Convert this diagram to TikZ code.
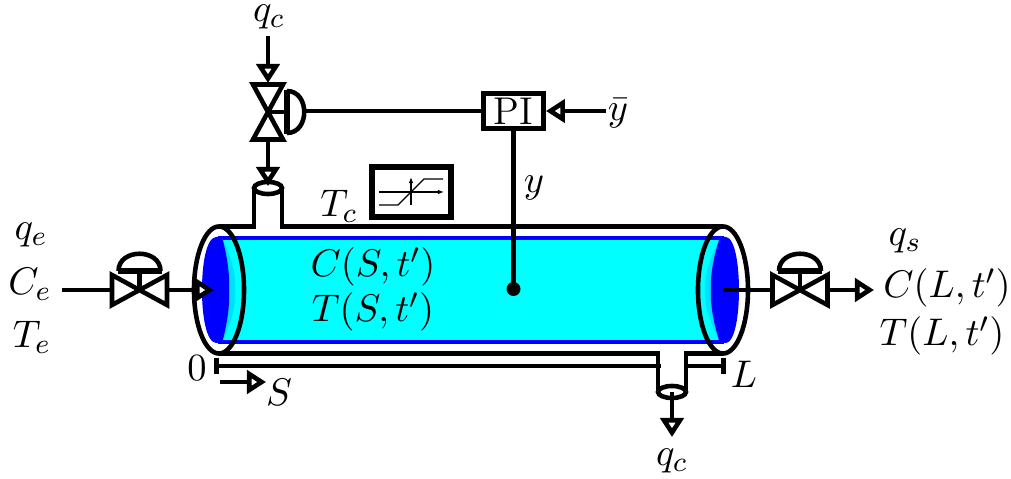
\documentclass[tikz,border=0pt]{standalone}
\usepackage{amsmath}
\usetikzlibrary{shapes.geometric,arrows.meta,calc}
\definecolor{tubeblue}{HTML}{0000FF}
\definecolor{tubecyan}{HTML}{00FFFF}
\definecolor{tubeband}{HTML}{00E0FF}
\tikzstyle{line} = [line width=1.3pt, black]
\tikzstyle{arrow} = [line, -{Triangle[open, fill=white, length=1.9mm, width=2.3mm]}]
\tikzstyle{label} = [inner sep=0pt, font=\fontsize{11}{13}\selectfont]
\tikzstyle{controller} = [rectangle, draw, line width=1.4pt, fill=white, inner sep=0pt,
    minimum width=0.6cm, minimum height=0.35cm, font=\fontsize{11}{13}\selectfont]
\tikzstyle{tankend} = [ellipse, draw, line width=1.3pt, inner sep=0pt, outer sep=0pt,
    minimum width=0.5cm, minimum height=1.27cm]
\tikzstyle{nozzle} = [ellipse, draw, line width=1.3pt, inner sep=0pt, outer sep=0pt,
    minimum width=0.28cm, minimum height=0.12cm]
\tikzset{valve/.pic={
    \draw[line, line join=miter] (-27.5,-15) -- (-27.5,15) -- (27.5,-15) -- (27.5,15) -- cycle;
    \draw[line] (0,0) -- (0,-19);
    \draw[line] (-21,-19) .. controls (-21,-42) and (21,-42) .. (21,-19);
    \draw[line width=1.8pt] (-22,-19) -- (22,-19);
    \coordinate (-w) at (-27.5,0);
    \coordinate (-e) at (27.5,0);
}}
\begin{document}
\begin{tikzpicture}[x=0.01cm, y=-0.01cm]
\useasboundingbox (0,0) rectangle (1011,479);
% liquid in the tube
\fill[tubecyan] (220,238) rectangle (722,342);
\draw[tubeblue, line width=1.15pt] (218,238) -- (724,238);
\draw[tubeblue, line width=1.15pt] (218,342) -- (724,342);
\fill[tubeband] (222,238) .. controls (232,258) and (236,275) .. (235,290)
    .. controls (236,305) and (232,322) .. (222,342) -- cycle;
\fill[tubeblue] (222,237) -- (216,237) .. controls (206,238) and (202,265) .. (202,290)
    .. controls (202,315) and (206,342) .. (216,343) -- (222,343)
    .. controls (227,325) and (230,305) .. (229,290)
    .. controls (230,275) and (227,255) .. (222,237) -- cycle;
\fill[tubeband] (720,238) .. controls (710,258) and (704,275) .. (705,290)
    .. controls (704,305) and (710,322) .. (720,342) -- cycle;
\fill[tubeblue] (720,237) -- (726,237) .. controls (735,238) and (739,265) .. (739,290)
    .. controls (739,315) and (735,342) .. (726,343) -- (720,343)
    .. controls (714,325) and (710,305) .. (711,290)
    .. controls (710,275) and (714,255) .. (720,237) -- cycle;
% tank
\node[tankend] (tankL) at (219,290) {};
\node[tankend] (tankR) at (723,290) {};
\node[nozzle] (nozT) at (268,188) {};
\node[nozzle] (nozB) at (672,392) {};
\draw[line] (tankL.north) -| (nozT.west);
\draw[line] (nozT.east) |- (tankR.north);
\draw[line] (tankL.south) -| (nozB.west);
\draw[line] (nozB.east) |- (tankR.south);
% valves
\pic (vin) at (139.5,290) {valve};
\pic (vout) at (800,290) {valve};
\pic[rotate=-90] (vtop) at (268,112) {valve};
\node[controller] (pi) at (513.5,111) {PI};
% inlet and outlet
\coordinate (inStart) at (62,290);
\coordinate (inTip) at (214,290);
\coordinate (outStart) at (723,290);
\coordinate (outTip) at (874,290);
\draw[line] (inStart) -- (vin-w);
\draw[arrow] (vin-e) -- (inTip);
\draw[line] (outStart) -- (vout-w);
\draw[arrow] (vout-e) -- (outTip);
% coolant
\coordinate (qcTop) at (268,36);
\coordinate (qcTip) at (268,83);
\coordinate (nozTip) at (268,186);
\coordinate (nozOut) at (672,392);
\coordinate (qcOut) at (672,437);
\draw[arrow] (qcTop) -- (qcTip);
\draw[arrow] (vtop-e) -- (nozTip);
\draw[arrow] (nozOut) -- (qcOut);
% control loop
\coordinate (ybarEnd) at (606,111);
\coordinate (sensor) at (513.5,289);
\coordinate (loopIn) at (305,111);
\draw[line] (loopIn) -- (pi);
\draw[arrow] (ybarEnd) -- (pi);
\draw[line] (pi) -- (sensor);
\fill (sensor) circle (7);
% length scale
\coordinate (zeroEnd) at (214,366);
\coordinate (zeroStop) at (661,366);
\coordinate (lenEnd) at (726,366);
\coordinate (lenStop) at (688,366);
\draw[line, {Bar[width=1.5mm]}-] (zeroEnd) -- (zeroStop);
\draw[line, -{Bar[width=1.5mm]}] (lenStop) -- (lenEnd);
\coordinate (sStart) at (220,382);
\coordinate (sTip) at (266,382);
\draw[arrow] (sStart) -- (sTip);
% saturation box
\node[rectangle, draw, line width=1.45pt, minimum width=0.79cm, minimum height=0.5cm, inner sep=0pt] (sat) at (411.5,192) {};
\draw[line width=0.3pt, -{Latex[length=0.6mm]}] (379,192) -- (444,192);
\draw[line width=0.3pt, -{Latex[length=0.6mm]}] (411,205) -- (411,177);
\draw[line width=0.4pt] (379,205) -- (398,205) -- (424,179) -- (443,179);
% labels
\node[label] (lqct) at (269,17) {$q_c$};
\node[label] (lqcb) at (672,461) {$q_c$};
\node[label] (lybar) at (618,113) {$\bar{y}$};
\node[label] (ly) at (534,188) {$y$};
\node[label] (lTc) at (339,206) {$T_c$};
\node[label] (lqe) at (31,235) {$q_e$};
\node[label] (lCe) at (30,284) {$C_e$};
\node[label] (lTe) at (32,337) {$T_e$};
\node[label] (lCS) at (373,267) {$C(S,t')$};
\node[label] (lTS) at (373,312) {$T(S,t')$};
\node[label] (lqs) at (905,241) {$q_s$};
\node[label] (lCL) at (947,288) {$C(L,t')$};
\node[label] (lTL) at (942,336) {$T(L,t')$};
\node[label] (lzero) at (197,368) {$0$};
\node[label] (lL) at (744,374) {$L$};
\node[label] (lS) at (279,392) {$S$};
\end{tikzpicture}
\end{document}
